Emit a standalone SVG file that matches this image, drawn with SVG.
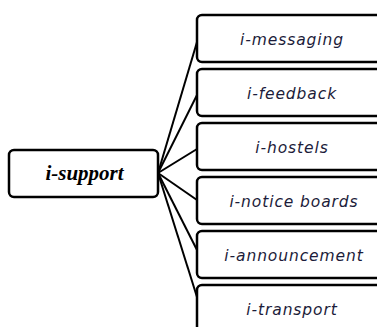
<svg xmlns="http://www.w3.org/2000/svg" width="377" height="327" viewBox="0 0 377 327">
<style>
.box{fill:#fff;stroke:#000;stroke-width:2.5}
.lbl{font-family:"DejaVu Sans",sans-serif;font-style:italic;font-size:15.5px;letter-spacing:0.9px;fill:#1c1c3a;text-anchor:middle}
.main{font-family:"Liberation Serif",serif;font-style:italic;font-weight:bold;font-size:21px;fill:#000;text-anchor:middle}
.con{stroke:#000;stroke-width:2;fill:none}
</style>
<rect width="377" height="327" fill="#fff"/>
<g id="connectors">
<line class="con" x1="158" y1="173" x2="197" y2="42"/>
<line class="con" x1="158" y1="173" x2="197" y2="95"/>
<line class="con" x1="158" y1="173" x2="197" y2="149"/>
<line class="con" x1="158" y1="173" x2="197" y2="200"/>
<line class="con" x1="158" y1="173" x2="197" y2="250"/>
<line class="con" x1="158" y1="173" x2="197" y2="297"/>
</g>
<g id="i-support"><rect class="box" x="9" y="150" width="149" height="47" rx="5"/><text class="main" x="84.5" y="180">i-support</text></g>
<g id="i-messaging"><rect class="box" x="197" y="15" width="190" height="47" rx="5"/><text class="lbl" x="292" y="45">i-messaging</text></g>
<g id="i-feedback"><rect class="box" x="197" y="69" width="190" height="47" rx="5"/><text class="lbl" x="292" y="99">i-feedback</text></g>
<g id="i-hostels"><rect class="box" x="197" y="123" width="190" height="47" rx="5"/><text class="lbl" x="292" y="153">i-hostels</text></g>
<g id="i-notice-boards"><rect class="box" x="197" y="177" width="190" height="47" rx="5"/><text class="lbl" x="294" y="207">i-notice boards</text></g>
<g id="i-announcement"><rect class="box" x="197" y="231" width="190" height="47" rx="5"/><text class="lbl" x="294" y="261">i-announcement</text></g>
<g id="i-transport"><rect class="box" x="197" y="285" width="190" height="47" rx="5"/><text class="lbl" x="292" y="315">i-transport</text></g>
</svg>
